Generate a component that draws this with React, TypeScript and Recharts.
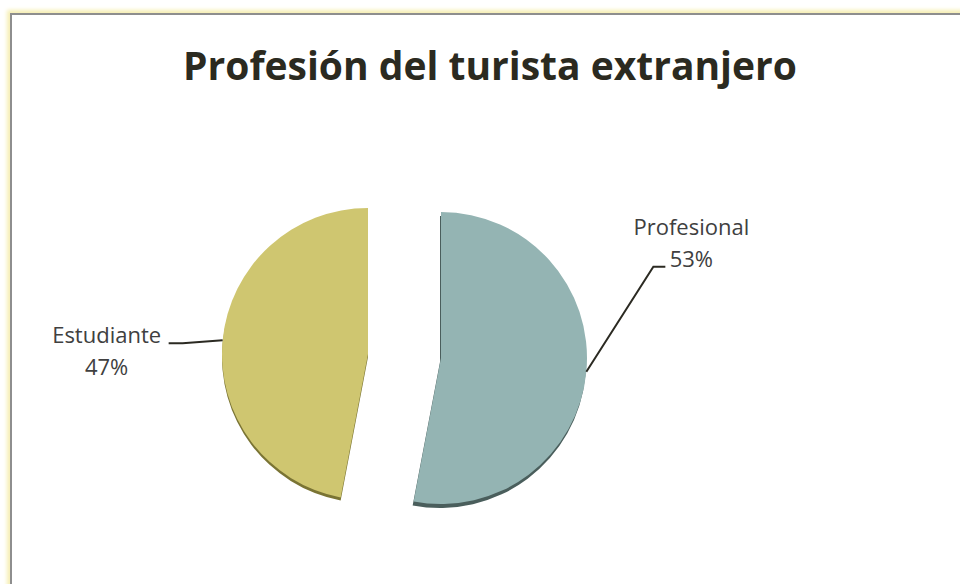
import React from "react";
import { PieChart, Pie, Cell } from "recharts";

const categories = ["Profesional", "Estudiante"];
const values = [53, 47];
const fills = ["#94B4B3", "#CFC670"];
const shadowFills = ["#4A5E5C", "#7A7434"];

const data = categories.map((name, i) => ({ name, value: values[i] }));

const RAD = Math.PI / 180;
const FONT = "'Open Sans', 'Noto Sans', sans-serif";

const makeLabel = (show: number) => (p: any) => {
  if (p.index !== show) return null;
  const ex = p.cx + p.outerRadius * Math.cos(-p.midAngle * RAD);
  const ey = p.cy + p.outerRadius * Math.sin(-p.midAngle * RAD);
  const right = Math.cos(-p.midAngle * RAD) > 0;
  const pct = `${Math.round(p.percent * 100)}%`;
  if (right) {
    const bx = ex + 67;
    const by = ey - 105;
    return (
      <g>
        <polyline
          points={`${ex},${ey} ${bx},${by} ${bx + 12},${by}`}
          fill="none"
          stroke="#2B2A22"
          strokeWidth={2}
        />
        <text x={bx + 38} y={by - 32} textAnchor="middle" fill="#404040" fontSize={22} fontFamily={FONT}>
          {p.name}
        </text>
        <text x={bx + 38} y={by} textAnchor="middle" fill="#404040" fontSize={22} fontFamily={FONT}>
          {pct}
        </text>
      </g>
    );
  }
  const bx = ex - 40;
  const by = ey + 3;
  return (
    <g>
      <polyline
        points={`${ex},${ey} ${bx},${by} ${bx - 14},${by}`}
        fill="none"
        stroke="#2B2A22"
        strokeWidth={2}
      />
      <text x={bx - 76} y={by} textAnchor="middle" fill="#404040" fontSize={22} fontFamily={FONT}>
        {p.name}
      </text>
      <text x={bx - 76} y={by + 32} textAnchor="middle" fill="#404040" fontSize={22} fontFamily={FONT}>
        {pct}
      </text>
    </g>
  );
};

const slicePos = [
  { cx: 441, cy: 358 },
  { cx: 368, cy: 354 },
];
const shadowShift = [
  { dx: -1, dy: 4 },
  { dx: 0, dy: 3 },
];
const R = 146;

export default function App() {
  return (
    <div style={{ position: "fixed", left: 0, top: 0, width: 960, height: 584, background: "#fff", overflow: "hidden" }}>
      <div
        style={{
          position: "absolute",
          left: 10,
          top: 13,
          width: 1000,
          height: 700,
          borderLeft: "2px solid #8E8E8E",
          borderTop: "2px solid #8E8E8E",
          boxShadow: "0 0 4px 3px #F6EFB4",
          background: "#fff",
        }}
      />
      <svg style={{ position: "absolute", left: 0, top: 0 }} width={960} height={120}>
        <text
          x={490}
          y={80}
          textAnchor="middle"
          fontFamily={FONT}
          fontWeight={700}
          fontSize={39}
          fill="#2B2A20"
        >
          Profesión del turista extranjero
        </text>
      </svg>
      <div style={{ position: "absolute", left: 0, top: 0 }}>
        <PieChart width={960} height={584} margin={{ top: 0, right: 0, bottom: 0, left: 0 }}>
          {[0, 1].map((k) => (
            <Pie
              key={`s${k}`}
              data={data}
              dataKey="value"
              nameKey="name"
              cx={slicePos[k].cx + shadowShift[k].dx}
              cy={slicePos[k].cy + shadowShift[k].dy}
              outerRadius={R}
              startAngle={90}
              endAngle={-270}
              stroke="none"
              isAnimationActive={false}
              labelLine={false}
            >
              {data.map((d, i) => (
                <Cell key={d.name} fill={i === k ? shadowFills[i] : "transparent"} />
              ))}
            </Pie>
          ))}
          {[0, 1].map((k) => (
            <Pie
              key={`p${k}`}
              data={data}
              dataKey="value"
              nameKey="name"
              cx={slicePos[k].cx}
              cy={slicePos[k].cy}
              outerRadius={R}
              startAngle={90}
              endAngle={-270}
              stroke="none"
              isAnimationActive={false}
              labelLine={false}
              label={makeLabel(k)}
            >
              {data.map((d, i) => (
                <Cell key={d.name} fill={i === k ? fills[i] : "transparent"} />
              ))}
            </Pie>
          ))}
        </PieChart>
      </div>
    </div>
  );
}
